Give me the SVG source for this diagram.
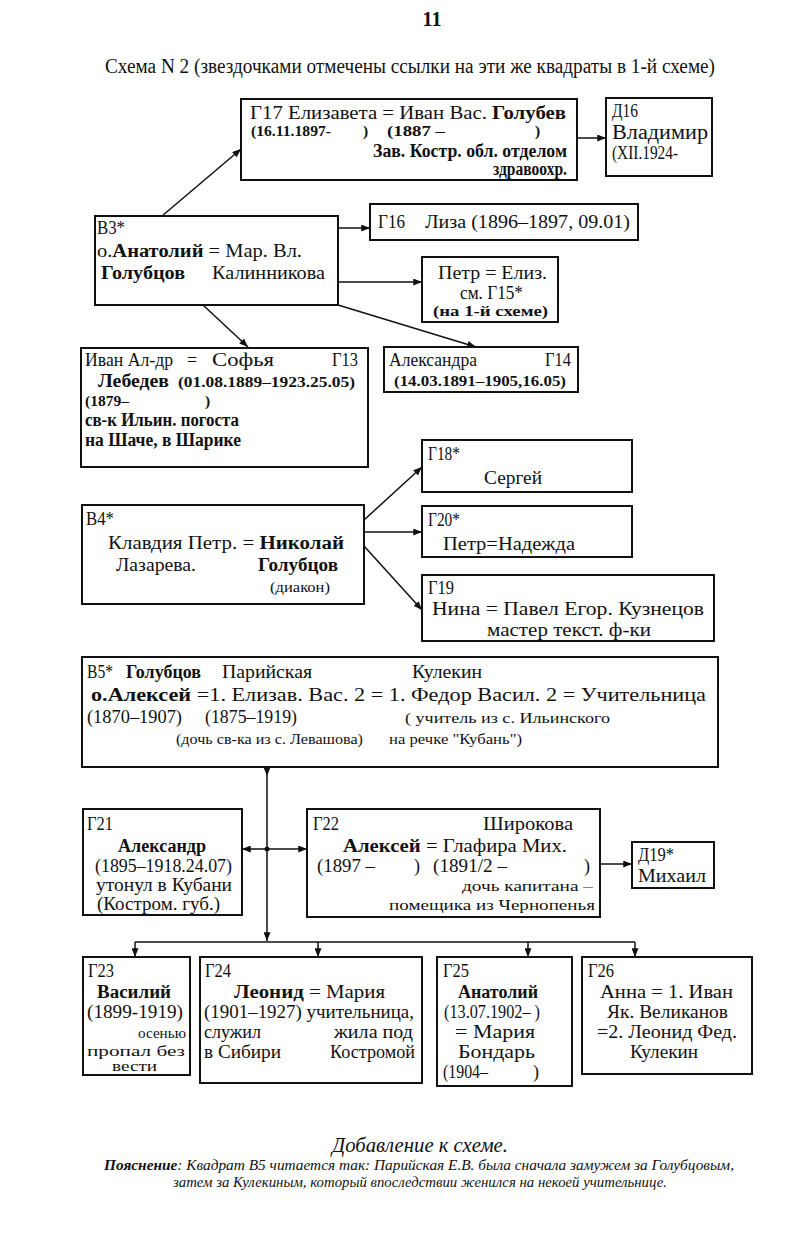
<svg xmlns="http://www.w3.org/2000/svg" width="800" height="1235" viewBox="0 0 800 1235">
<style>
.bx{fill:none;stroke:#111;stroke-width:2}
.cn line{stroke:#111;stroke-width:1.5}
text{font-family:"Liberation Serif","Times New Roman",serif;font-size:18px;fill:#111}
.b{font-weight:bold}
.s{font-size:15.5px}
.xs{font-size:14px}
.l{font-size:20px}
.i{font-style:italic}
</style>
<defs>
<marker id="arr" viewBox="0 0 10 8" refX="10" refY="4" markerWidth="9" markerHeight="7" orient="auto" markerUnits="userSpaceOnUse"><path d="M0,0 L10,4 L0,8 z" fill="#111"/></marker>
</defs>
<rect width="800" height="1235" fill="#fff"/>
<g id="header">
<text x="432" y="26" class="b l" text-anchor="middle">11</text>
<text x="105" y="73" class="l" textLength="610" lengthAdjust="spacingAndGlyphs">Схема N 2 (звездочками отмечены ссылки на эти же квадраты в 1-й схеме)</text>
</g>
<g id="connectors" class="cn">
<line x1="162" y1="216" x2="241" y2="149" marker-end="url(#arr)"/>
<line x1="577" y1="138" x2="606" y2="138" marker-end="url(#arr)"/>
<line x1="338" y1="228" x2="370" y2="228" marker-end="url(#arr)"/>
<line x1="338" y1="282" x2="422" y2="282" marker-end="url(#arr)"/>
<line x1="203" y1="305" x2="248" y2="347" marker-end="url(#arr)"/>
<line x1="338" y1="305" x2="476" y2="347" marker-end="url(#arr)"/>
<line x1="364" y1="520" x2="422" y2="467" marker-end="url(#arr)"/>
<line x1="364" y1="532" x2="422" y2="532" marker-end="url(#arr)"/>
<line x1="364" y1="546" x2="422" y2="610" marker-end="url(#arr)"/>
<line x1="267" y1="767" x2="267" y2="776" marker-end="url(#arr)"/>
<line x1="267" y1="776" x2="267" y2="941" marker-end="url(#arr)"/>
<line x1="267" y1="849" x2="242" y2="849" marker-end="url(#arr)"/>
<line x1="267" y1="849" x2="307" y2="849" marker-end="url(#arr)"/>
<circle cx="267" cy="849" r="2.5" fill="#111"/>
<line x1="600" y1="864" x2="632" y2="864" marker-end="url(#arr)"/>
<line x1="135" y1="942" x2="635" y2="942"/>
<line x1="135" y1="942" x2="135" y2="957" marker-end="url(#arr)"/>
<line x1="318" y1="942" x2="318" y2="957" marker-end="url(#arr)"/>
<line x1="528" y1="942" x2="528" y2="957" marker-end="url(#arr)"/>
<line x1="635" y1="942" x2="635" y2="957" marker-end="url(#arr)"/>
</g>
<g id="G17">
<rect class="bx" x="241" y="99" width="336" height="81"/>
<text x="250" y="119" textLength="316" lengthAdjust="spacingAndGlyphs">Г17  Елизавета = Иван Вас. <tspan class="b">Голубев</tspan></text>
<text x="251" y="136" class="b s" textLength="80" lengthAdjust="spacingAndGlyphs">(16.11.1897-</text>
<text x="363" y="136" class="b s">)</text>
<text x="387" y="136" class="b s" textLength="58" lengthAdjust="spacingAndGlyphs">(1887 –</text>
<text x="535" y="136" class="b s">)</text>
<text x="567" y="157" class="b" text-anchor="end" textLength="194" lengthAdjust="spacingAndGlyphs">Зав. Костр. обл. отделом</text>
<text x="567" y="175" class="b" text-anchor="end" textLength="74" lengthAdjust="spacingAndGlyphs">здравоохр.</text>
</g>
<g id="D16">
<rect class="bx" x="606" y="98" width="106" height="78"/>
<text x="612" y="117" textLength="26" lengthAdjust="spacingAndGlyphs">Д16</text>
<text x="612" y="139" class="l" textLength="96" lengthAdjust="spacingAndGlyphs">Владимир</text>
<text x="612" y="159" textLength="66" lengthAdjust="spacingAndGlyphs">(XII.1924-</text>
</g>
<g id="V3">
<rect class="bx" x="95" y="216" width="243" height="89"/>
<text x="97" y="234" textLength="28" lengthAdjust="spacingAndGlyphs">В3*</text>
<text x="97" y="257" textLength="205" lengthAdjust="spacingAndGlyphs">о.<tspan class="b">Анатолий</tspan> = Мар. Вл.</text>
<text x="101" y="279" class="b" textLength="84" lengthAdjust="spacingAndGlyphs">Голубцов</text>
<text x="212" y="279" textLength="113" lengthAdjust="spacingAndGlyphs">Калинникова</text>
</g>
<g id="G16">
<rect class="bx" x="370" y="204" width="268" height="36"/>
<text x="378" y="228" textLength="27" lengthAdjust="spacingAndGlyphs">Г16</text>
<text x="425" y="228" textLength="205" lengthAdjust="spacingAndGlyphs">Лиза (1896–1897, 09.01)</text>
</g>
<g id="Petr">
<rect class="bx" x="422" y="257" width="136" height="65"/>
<text x="438" y="279" textLength="109" lengthAdjust="spacingAndGlyphs">Петр = Елиз.</text>
<text x="460" y="299" textLength="63" lengthAdjust="spacingAndGlyphs">см. Г15*</text>
<text x="433" y="316" class="b xs" textLength="115" lengthAdjust="spacingAndGlyphs">(на 1-й схеме)</text>
</g>
<g id="G13">
<rect class="bx" x="81" y="348" width="287" height="119"/>
<text x="85" y="366" textLength="88" lengthAdjust="spacingAndGlyphs">Иван Ал-др</text>
<text x="187" y="366">=</text>
<text x="212" y="366" textLength="62" lengthAdjust="spacingAndGlyphs">Софья</text>
<text x="332" y="366" textLength="26" lengthAdjust="spacingAndGlyphs">Г13</text>
<text x="98" y="387" class="b" textLength="71" lengthAdjust="spacingAndGlyphs">Лебедев</text>
<text x="178" y="387" class="b s" textLength="177" lengthAdjust="spacingAndGlyphs">(01.08.1889–1923.25.05)</text>
<text x="85" y="406" class="b s" textLength="44" lengthAdjust="spacingAndGlyphs">(1879–</text>
<text x="205" y="406" class="b s">)</text>
<text x="85" y="426" class="b" textLength="154" lengthAdjust="spacingAndGlyphs">св-к Ильин. погоста</text>
<text x="85" y="446" class="b" textLength="156" lengthAdjust="spacingAndGlyphs">на Шаче, в Шарике</text>
</g>
<g id="G14">
<rect class="bx" x="384" y="347" width="194" height="45"/>
<text x="389" y="366" textLength="88" lengthAdjust="spacingAndGlyphs">Александра</text>
<text x="545" y="366" textLength="26" lengthAdjust="spacingAndGlyphs">Г14</text>
<text x="394" y="386" class="b s" textLength="172" lengthAdjust="spacingAndGlyphs">(14.03.1891–1905,16.05)</text>
</g>
<g id="V4">
<rect class="bx" x="82" y="505" width="282" height="99"/>
<text x="86" y="525" textLength="28" lengthAdjust="spacingAndGlyphs">В4*</text>
<text x="108" y="549" textLength="236" lengthAdjust="spacingAndGlyphs">Клавдия Петр. = <tspan class="b">Николай</tspan></text>
<text x="116" y="571" textLength="80" lengthAdjust="spacingAndGlyphs">Лазарева.</text>
<text x="258" y="571" class="b" textLength="80" lengthAdjust="spacingAndGlyphs">Голубцов</text>
<text x="270" y="592" class="s" textLength="60" lengthAdjust="spacingAndGlyphs">(диакон)</text>
</g>
<g id="G18">
<rect class="bx" x="422" y="440" width="210" height="52"/>
<text x="428" y="460" textLength="32" lengthAdjust="spacingAndGlyphs">Г18*</text>
<text x="484" y="484" textLength="58" lengthAdjust="spacingAndGlyphs">Сергей</text>
</g>
<g id="G20">
<rect class="bx" x="422" y="506" width="210" height="51"/>
<text x="428" y="526" textLength="32" lengthAdjust="spacingAndGlyphs">Г20*</text>
<text x="443" y="550" textLength="132" lengthAdjust="spacingAndGlyphs">Петр=Надежда</text>
</g>
<g id="G19">
<rect class="bx" x="422" y="575" width="292" height="66"/>
<text x="428" y="594" textLength="26" lengthAdjust="spacingAndGlyphs">Г19</text>
<text x="432" y="615" textLength="272" lengthAdjust="spacingAndGlyphs">Нина = Павел Егор. Кузнецов</text>
<text x="487" y="636" textLength="164" lengthAdjust="spacingAndGlyphs">мастер текст. ф-ки</text>
</g>
<g id="V5">
<rect class="bx" x="82" y="657" width="636" height="110"/>
<text x="87" y="678" textLength="26" lengthAdjust="spacingAndGlyphs">В5*</text>
<text x="126" y="678" class="b" textLength="75" lengthAdjust="spacingAndGlyphs">Голубцов</text>
<text x="222" y="678" textLength="90" lengthAdjust="spacingAndGlyphs">Парийская</text>
<text x="412" y="678" textLength="70" lengthAdjust="spacingAndGlyphs">Кулекин</text>
<text x="91" y="701" textLength="615" lengthAdjust="spacingAndGlyphs"><tspan class="b">о.Алексей</tspan> =1. Елизав. Вас. 2 = 1. Федор Васил. 2 = Учительница</text>
<text x="87" y="723" textLength="95" lengthAdjust="spacingAndGlyphs">(1870–1907)</text>
<text x="205" y="723" textLength="92" lengthAdjust="spacingAndGlyphs">(1875–1919)</text>
<text x="405" y="723" class="xs" textLength="205" lengthAdjust="spacingAndGlyphs">( учитель из с. Ильинского</text>
<text x="176" y="744" class="xs" textLength="187" lengthAdjust="spacingAndGlyphs">(дочь св-ка из с. Левашова)</text>
<text x="389" y="744" class="xs" textLength="133" lengthAdjust="spacingAndGlyphs">на речке "Кубань")</text>
</g>
<g id="G21">
<rect class="bx" x="83" y="809" width="159" height="106"/>
<text x="87" y="830" textLength="26" lengthAdjust="spacingAndGlyphs">Г21</text>
<text x="162" y="852" class="b" text-anchor="middle" textLength="88" lengthAdjust="spacingAndGlyphs">Александр</text>
<text x="95" y="872" textLength="137" lengthAdjust="spacingAndGlyphs">(1895–1918.24.07)</text>
<text x="96" y="891" textLength="136" lengthAdjust="spacingAndGlyphs">утонул в Кубани</text>
<text x="97" y="910" textLength="123" lengthAdjust="spacingAndGlyphs">(Костром. губ.)</text>
</g>
<g id="G22">
<rect class="bx" x="307" y="809" width="293" height="108"/>
<text x="313" y="830" textLength="26" lengthAdjust="spacingAndGlyphs">Г22</text>
<text x="483" y="830" textLength="90" lengthAdjust="spacingAndGlyphs">Широкова</text>
<text x="343" y="852" textLength="224" lengthAdjust="spacingAndGlyphs"><tspan class="b">Алексей</tspan> = Глафира Мих.</text>
<text x="317" y="872" textLength="58" lengthAdjust="spacingAndGlyphs">(1897 –</text>
<text x="414" y="872">)</text>
<text x="433" y="872" textLength="74" lengthAdjust="spacingAndGlyphs">(1891/2 –</text>
<text x="584" y="872">)</text>
<text x="593" y="891" class="s" text-anchor="end" textLength="131" lengthAdjust="spacingAndGlyphs">дочь капитана –</text>
<text x="595" y="910" class="s" text-anchor="end" textLength="206" lengthAdjust="spacingAndGlyphs">помещика из Чернопенья</text>
</g>
<g id="D19">
<rect class="bx" x="632" y="842" width="82" height="46"/>
<text x="638" y="861" textLength="36" lengthAdjust="spacingAndGlyphs">Д19*</text>
<text x="638" y="882" textLength="68" lengthAdjust="spacingAndGlyphs">Михаил</text>
</g>
<g id="G23">
<rect class="bx" x="83" y="957" width="107" height="118"/>
<text x="88" y="977" textLength="26" lengthAdjust="spacingAndGlyphs">Г23</text>
<text x="134" y="998" class="b" text-anchor="middle" textLength="74" lengthAdjust="spacingAndGlyphs">Василий</text>
<text x="87" y="1018" textLength="96" lengthAdjust="spacingAndGlyphs">(1899-1919)</text>
<text x="186" y="1038" class="xs" text-anchor="end" textLength="48" lengthAdjust="spacingAndGlyphs">осенью</text>
<text x="87" y="1056" class="xs" textLength="98" lengthAdjust="spacingAndGlyphs">пропал без</text>
<text x="112" y="1071" class="xs" textLength="45" lengthAdjust="spacingAndGlyphs">вести</text>
</g>
<g id="G24">
<rect class="bx" x="200" y="957" width="222" height="126"/>
<text x="205" y="977" textLength="26" lengthAdjust="spacingAndGlyphs">Г24</text>
<text x="234" y="998" textLength="151" lengthAdjust="spacingAndGlyphs"><tspan class="b">Леонид</tspan> = Мария</text>
<text x="204" y="1018" textLength="210" lengthAdjust="spacingAndGlyphs">(1901–1927) учительница,</text>
<text x="204" y="1038" textLength="57" lengthAdjust="spacingAndGlyphs">служил</text>
<text x="334" y="1038" textLength="79" lengthAdjust="spacingAndGlyphs">жила под</text>
<text x="204" y="1058" textLength="77" lengthAdjust="spacingAndGlyphs">в Сибири</text>
<text x="330" y="1058" textLength="85" lengthAdjust="spacingAndGlyphs">Костромой</text>
</g>
<g id="G25">
<rect class="bx" x="437" y="957" width="135" height="129"/>
<text x="443" y="977" textLength="26" lengthAdjust="spacingAndGlyphs">Г25</text>
<text x="498" y="998" class="b" text-anchor="middle" textLength="80" lengthAdjust="spacingAndGlyphs">Анатолий</text>
<text x="444" y="1018" textLength="96" lengthAdjust="spacingAndGlyphs">(13.07.1902– )</text>
<text x="455" y="1038" textLength="80" lengthAdjust="spacingAndGlyphs">= Мария</text>
<text x="458" y="1058" textLength="77" lengthAdjust="spacingAndGlyphs">Бондарь</text>
<text x="443" y="1078" textLength="45" lengthAdjust="spacingAndGlyphs">(1904–</text>
<text x="533" y="1078">)</text>
</g>
<g id="G26">
<rect class="bx" x="582" y="957" width="170" height="117"/>
<text x="588" y="977" textLength="26" lengthAdjust="spacingAndGlyphs">Г26</text>
<text x="600" y="998" textLength="133" lengthAdjust="spacingAndGlyphs">Анна = 1. Иван</text>
<text x="607" y="1018" textLength="121" lengthAdjust="spacingAndGlyphs">Як. Великанов</text>
<text x="597" y="1038" textLength="140" lengthAdjust="spacingAndGlyphs">=2. Леонид Фед.</text>
<text x="630" y="1058" textLength="68" lengthAdjust="spacingAndGlyphs">Кулекин</text>
</g>
<g id="note">
<text x="420" y="1152" class="i l" text-anchor="middle" textLength="176" lengthAdjust="spacingAndGlyphs">Добавление к схеме.</text>
<text x="104" y="1170" class="i xs" textLength="630" lengthAdjust="spacingAndGlyphs"><tspan class="b">Пояснение</tspan>: Квадрат В5 читается так: Парийская Е.В. была сначала замужем за Голубцовым,</text>
<text x="420" y="1187" class="i xs" text-anchor="middle" textLength="494" lengthAdjust="spacingAndGlyphs">затем за Кулекиным, который впоследствии женился на некоей учительнице.</text>
</g>
</svg>
